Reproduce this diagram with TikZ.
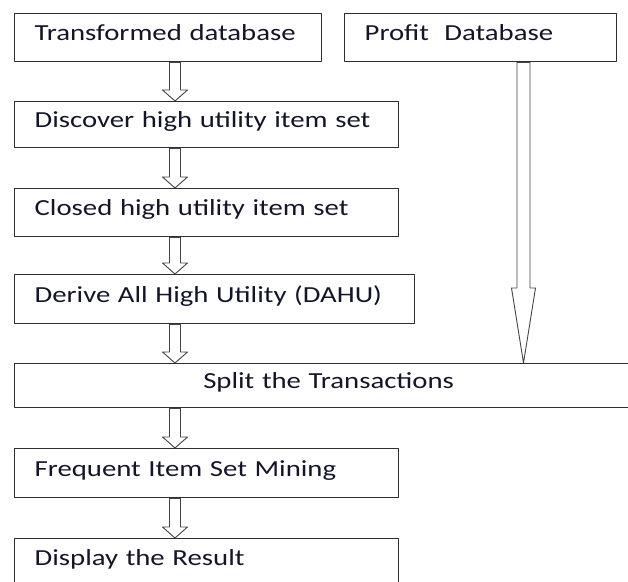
\documentclass[tikz,border=0pt]{standalone}
\usepackage{fontspec}
\setmainfont{Carlito}[FakeStretch=1.25]
\usetikzlibrary{calc}
\definecolor{cline}{HTML}{2e2e2e}
\definecolor{ctext}{HTML}{14142a}
\definecolor{carrow}{HTML}{444444}

% hollow block arrow: x, from node, to node, half shaft, half head, head length
\newcommand{\hollowarrow}[6]{%
  \draw[hollow] let \p1=(#2.south), \p2=(#3.north) in
    (#1-#4,\y1) -- (#1-#4,\y2+#6) -- (#1-#5,\y2+#6) -- (#1,\y2)
    -- (#1+#5,\y2+#6) -- (#1+#4,\y2+#6) -- (#1+#4,\y1) -- cycle;}

\begin{document}
\begin{tikzpicture}[x=1pt, y=1pt, line cap=round, line join=round,
    font=\fontsize{23}{27}\selectfont,
    box/.style={draw=cline, line width=1.3pt, text=ctext, anchor=north west,
      minimum height=48pt, inner xsep=20pt, inner ysep=0pt,
      text height=15pt, text depth=9pt, align=left},
    hollow/.style={draw=carrow, line width=0.9pt, fill=white}]
  \useasboundingbox (0,0) rectangle (628,-581);
  \clip (0,0) rectangle (628,-581);

  % ---------- boxes ----------
  \node[box, text width=267pt] (tdb) at (14,-13) {Transformed database};
  \node[box, text width=232pt] (pdb) at (344,-13) {Profit\ \ Database};
  \node[box, text width=344pt, minimum height=46pt] (dis) at (14,-101) {Discover high utility item set};
  \node[box, text width=344pt] (cls) at (14,-188) {Closed high utility item set};
  \node[box, text width=360pt, minimum height=49pt] (dahu) at (14,-274) {Derive All High Utility (DAHU)};
  \node[box, text width=588pt, minimum height=44pt, align=center] (split) at (14,-363) {Split the Transactions};
  \node[box, text width=344pt, minimum height=49pt] (fim) at (14,-448) {Frequent Item Set Mining};
  \node[box, text width=344pt] (disp) at (14,-538) {Display the Result};

  % ---------- arrows ----------
  \hollowarrow{175}{tdb}{dis}{5.5}{12.5}{11}
  \hollowarrow{175}{dis}{cls}{5.5}{12.5}{11}
  \hollowarrow{175}{cls}{dahu}{5.5}{12.5}{11}
  \hollowarrow{175}{dahu}{split}{5.5}{12.5}{11}
  \hollowarrow{175}{split}{fim}{5.5}{12.5}{11}
  \hollowarrow{175}{fim}{disp}{5.5}{12.5}{11}
  \hollowarrow{523.5}{pdb}{split}{6.5}{12}{75}
\end{tikzpicture}
\end{document}
